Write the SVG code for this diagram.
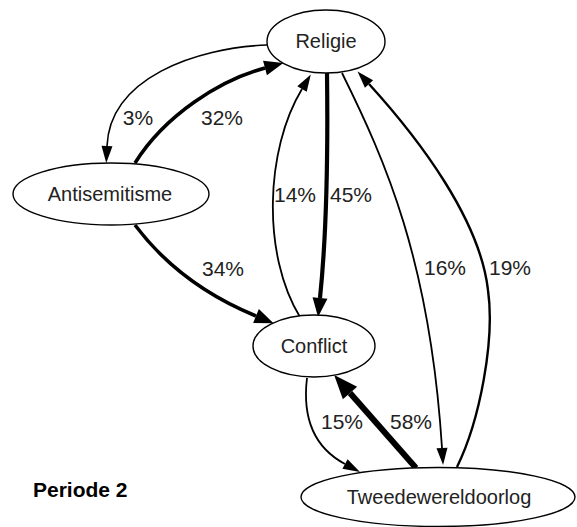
<svg xmlns="http://www.w3.org/2000/svg" width="577" height="527" viewBox="0 0 577 527">
  <style>
    .node ellipse { fill: #ffffff; stroke: #000000; stroke-width: 1.4; }
    .node text { font-family: "Liberation Sans", Arial, sans-serif; font-size: 20px; fill: #222222; text-anchor: middle; }
    .edge { fill: none; stroke: #000000; }
    .lbl { font-family: "Liberation Sans", Arial, sans-serif; font-size: 21px; fill: #222222; text-anchor: middle; }
    .title { font-family: "Liberation Sans", Arial, sans-serif; font-size: 21px; font-weight: bold; fill: #000000; }
  </style>
  <defs>
    <marker id="arS" markerUnits="userSpaceOnUse" markerWidth="30" markerHeight="30" refX="0" refY="0" orient="auto" overflow="visible">
      <path d="M0,-5.5 L17,0 L0,5.5 z" fill="#000000"/>
    </marker>
    <marker id="arM" markerUnits="userSpaceOnUse" markerWidth="30" markerHeight="30" refX="0" refY="0" orient="auto" overflow="visible">
      <path d="M0,-7.5 L19,0 L0,7.5 z" fill="#000000"/>
    </marker>
    <marker id="arL" markerUnits="userSpaceOnUse" markerWidth="30" markerHeight="30" refX="0" refY="0" orient="auto" overflow="visible">
      <path d="M0,-9.5 L24,0 L0,9.5 z" fill="#000000"/>
    </marker>
  </defs>
  <rect width="577" height="527" fill="#ffffff"/>

  <g id="edges">
    <path class="edge" stroke-width="1.6" d="M267,45 C195,48 110,78 107,146" marker-end="url(#arS)"/>
    <path class="edge" stroke-width="3.6" d="M135,163 C165,115 220,80 265,68" marker-end="url(#arM)"/>
    <path class="edge" stroke-width="3.6" d="M135,225 C165,265 205,295 256,316" marker-end="url(#arM)"/>
    <path class="edge" stroke-width="1.8" d="M300,317 C262,255 265,150 302,89" marker-end="url(#arS)"/>
    <path class="edge" stroke-width="4.2" d="M327,73 C328,150 326,240 320,298" marker-end="url(#arM)"/>
    <path class="edge" stroke-width="1.8" d="M342,73 C385,160 430,260 442,448" marker-end="url(#arS)"/>
    <path class="edge" stroke-width="2.4" d="M457,467 C480,420 495,340 488,290 C480,220 420,140 369,84" marker-end="url(#arS)"/>
    <path class="edge" stroke-width="1.8" d="M307,378 C302,420 315,448 345,464" marker-end="url(#arS)"/>
    <path class="edge" stroke-width="6" d="M416,468 L350,393" marker-end="url(#arL)"/>
  </g>

  <g id="labels">
    <text class="lbl" x="138" y="125">3%</text>
    <text class="lbl" x="222" y="125">32%</text>
    <text class="lbl" x="223" y="276">34%</text>
    <text class="lbl" x="295" y="202">14%</text>
    <text class="lbl" x="351" y="202">45%</text>
    <text class="lbl" x="445" y="275">16%</text>
    <text class="lbl" x="510" y="275">19%</text>
    <text class="lbl" x="342" y="429">15%</text>
    <text class="lbl" x="411" y="429">58%</text>
  </g>

  <g id="religie" class="node">
    <ellipse cx="326" cy="41.5" rx="59" ry="31.5"/>
    <text x="326" y="48">Religie</text>
  </g>
  <g id="antisemitisme" class="node">
    <ellipse cx="111" cy="194" rx="98" ry="31"/>
    <text x="110" y="201">Antisemitisme</text>
  </g>
  <g id="conflict" class="node">
    <ellipse cx="314" cy="346" rx="61" ry="31"/>
    <text x="314" y="353">Conflict</text>
  </g>
  <g id="tweedewereldoorlog" class="node">
    <ellipse cx="438" cy="497" rx="137" ry="29.5"/>
    <text x="439" y="504">Tweedewereldoorlog</text>
  </g>

  <text class="title" x="33" y="497">Periode 2</text>
</svg>
